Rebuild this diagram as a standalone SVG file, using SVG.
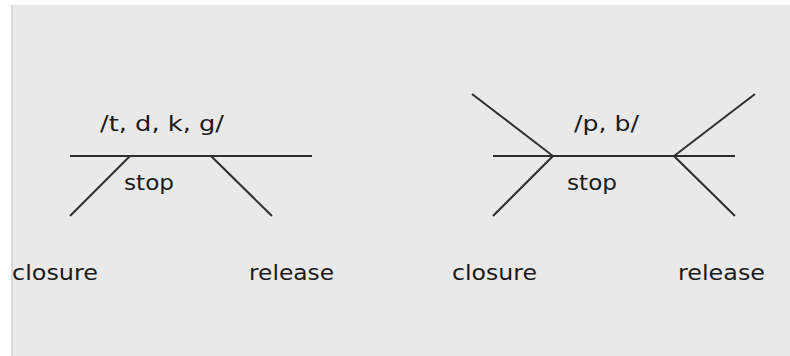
<svg xmlns="http://www.w3.org/2000/svg" width="790" height="356" viewBox="0 0 790 356">
<style>
.ln{stroke:#2e2e2e;stroke-width:2;fill:none;stroke-linecap:butt}
.t{font-family:"DejaVu Sans",Verdana,sans-serif;font-size:22px;fill:#1a1a1a}
</style>
<rect x="0" y="0" width="790" height="356" fill="#ffffff"/>
<rect x="11" y="5" width="779" height="351" fill="#e9e9e9"/>
<rect x="11" y="5" width="2" height="351" fill="#dadada"/>
<g id="stop-tdkg">
<path class="ln" d="M70 156H312M130 156L70 216M211 156L272 216"/>
<text class="t" x="100" y="131" textLength="124" lengthAdjust="spacingAndGlyphs">/t, d, k, g/</text>
<text class="t" x="124" y="190" textLength="50" lengthAdjust="spacingAndGlyphs">stop</text>
</g>
<g id="stop-pb">
<path class="ln" d="M493 156H735M472 94L553 156L493 216M755 94L674 156L735 216"/>
<text class="t" x="574" y="131" textLength="65" lengthAdjust="spacingAndGlyphs">/p, b/</text>
<text class="t" x="567" y="190" textLength="50" lengthAdjust="spacingAndGlyphs">stop</text>
</g>
<g id="labels">
<text class="t" x="12" y="280" textLength="86" lengthAdjust="spacingAndGlyphs">closure</text>
<text class="t" x="249" y="280" textLength="85" lengthAdjust="spacingAndGlyphs">release</text>
<text class="t" x="452" y="280" textLength="85" lengthAdjust="spacingAndGlyphs">closure</text>
<text class="t" x="678" y="280" textLength="87" lengthAdjust="spacingAndGlyphs">release</text>
</g>
</svg>
